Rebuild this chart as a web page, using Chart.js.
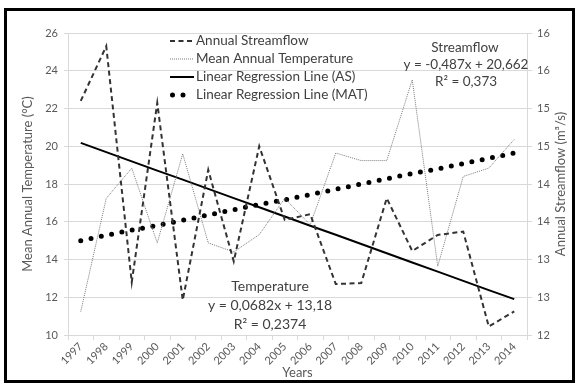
<!DOCTYPE html>
<html>
<head>
<meta charset="utf-8">
<script src="https://cdn.jsdelivr.net/npm/chart.js@4/dist/chart.umd.min.js"></script>
<style>
  html, body { margin: 0; padding: 0; background: #fff; }
  #wrap { width: 578px; height: 385px; }
</style>
</head>
<body>
<div id="wrap"><canvas id="flowChart" width="578" height="385"></canvas></div>
<script>
// Data
const years = ['1997', '1998', '1999', '2000', '2001', '2002', '2003', '2004', '2005',
  '2006', '2007', '2008', '2009', '2010', '2011', '2012', '2013', '2014'];
const streamflow = [22.4, 25.3, 12.8, 22.3, 11.85, 18.75, 13.9, 20.0, 16.1,
  16.4, 12.7, 12.75, 17.25, 14.45, 15.3, 15.48, 10.45, 11.25];
const temperature = [12.31, 13.81, 14.21, 13.22, 14.40, 13.22, 13.10, 13.33, 13.81,
  13.46, 14.41, 14.31, 14.31, 15.38, 12.91, 14.10, 14.21, 14.59];
const trendAS = [20.18, 19.69, 19.2, 18.71, 18.23, 17.74, 17.25, 16.77, 16.28,
  15.79, 15.31, 14.82, 14.33, 13.84, 13.36, 12.87, 12.38, 11.9];
const trendMAT = [13.25, 13.32, 13.39, 13.45, 13.52, 13.59, 13.66, 13.73, 13.79,
  13.86, 13.93, 14.0, 14.07, 14.14, 14.2, 14.27, 14.34, 14.41];
const leftTicks = [10, 12, 14, 16, 18, 20, 22, 24, 26];
const rightTicks = [12, 12.5, 13, 13.5, 14, 14.5, 15, 15.5, 16];

const FONT = 'Lato, "DejaVu Sans", sans-serif';
const GRID = '#d9d9d9';
const TEXT = '#595959';

// Legend, trend-line equations and right axis title drawn by hand
const insideText = {
  id: 'insideText',
  afterDraw(chart) {
    const ctx = chart.ctx;
    ctx.save();
    // legend
    const rows = [41, 59, 77, 95];
    chart.data.datasets.forEach((ds, i) => {
      const y = rows[i];
      ctx.beginPath();
      ctx.strokeStyle = ds.borderColor;
      ctx.lineWidth = ds.borderWidth;
      ctx.lineCap = ds.borderCapStyle || 'butt';
      ctx.setLineDash(ds.borderDash || []);
      ctx.moveTo(i === 3 ? 172.5 : 170, y);
      ctx.lineTo(i === 3 ? 184 : 194, y);
      ctx.stroke();
      ctx.setLineDash([]);
      ctx.fillStyle = '#404040';
      ctx.font = '13.5px ' + FONT;
      ctx.textBaseline = 'middle';
      ctx.textAlign = 'left';
      ctx.fillText(ds.label, 196, y);
    });
    // equations
    ctx.textAlign = 'center';
    ctx.fillStyle = '#404040';
    ctx.font = '13.5px ' + FONT;
    ctx.fillText('Streamflow', 465, 48);
    ctx.fillText('y = -0,487x + 20,662', 466, 65);
    ctx.fillText('R² = 0,373', 466, 82);
    ctx.font = '14px ' + FONT;
    ctx.fillText('Temperature', 270, 286);
    ctx.fillText('y = 0,0682x + 13,18', 270, 305);
    ctx.fillText('R² = 0,2374', 270, 324);
    // right axis title, reading bottom to top
    ctx.save();
    ctx.translate(561, 184);
    ctx.rotate(-Math.PI / 2);
    ctx.fillStyle = TEXT;
    ctx.font = '13px ' + FONT;
    ctx.fillText('Annual Streamflow (m³/s)', 0, 0);
    ctx.restore();
    // outer frame
    ctx.strokeStyle = '#000';
    ctx.lineWidth = 3;
    ctx.strokeRect(5.5, 9.5, 568, 372);
    ctx.restore();
  }
};

const ctx = document.getElementById('flowChart').getContext('2d');
new Chart(ctx, {
  type: 'line',
  data: {
    labels: years,
    datasets: [
      {
        label: 'Annual Streamflow',
        data: streamflow,
        yAxisID: 'y',
        borderColor: '#333333',
        borderWidth: 2,
        borderDash: [5, 3.5],
        pointRadius: 0,
        tension: 0
      },
      {
        label: 'Mean Annual Temperature',
        data: temperature,
        yAxisID: 'y1',
        borderColor: '#7a7a7a',
        borderWidth: 1,
        borderDash: [1, 1],
        pointRadius: 0,
        tension: 0
      },
      {
        label: 'Linear Regression Line (AS)',
        data: trendAS,
        yAxisID: 'y',
        borderColor: '#000000',
        borderWidth: 2,
        pointRadius: 0,
        tension: 0
      },
      {
        label: 'Linear Regression Line (MAT)',
        data: trendMAT,
        yAxisID: 'y1',
        borderColor: '#000000',
        borderWidth: 5,
        borderDash: [0, 10.5],
        borderCapStyle: 'round',
        pointRadius: 0,
        tension: 0
      }
    ]
  },
  options: {
    responsive: false,
    animation: false,
    layout: { padding: { left: 0, right: 0, top: 33, bottom: 0 } },
    plugins: {
      legend: { display: false },
      tooltip: { enabled: false }
    },
    scales: {
      x: {
        offset: true,
        grid: { offset: true, drawOnChartArea: false, tickLength: 5, color: GRID },
        border: { color: GRID },
        ticks: {
          autoSkip: false, minRotation: 45, maxRotation: 45, padding: 0,
          color: TEXT, font: { family: FONT, size: 11 }
        },
        title: {
          display: true, text: 'Years', color: TEXT,
          font: { family: FONT, size: 13 }, padding: { top: 0, bottom: 4 }
        },
        afterFit(scale) { scale.height = 50; }
      },
      y: {
        position: 'left',
        min: 10, max: 26,
        afterBuildTicks(scale) { scale.ticks = leftTicks.map(v => ({ value: v })); },
        grid: { color: GRID, tickLength: 4 },
        border: { color: GRID },
        ticks: { color: TEXT, padding: 6, font: { family: FONT, size: 11 } },
        title: {
          display: true, text: 'Mean Annual Temperature (°C)', color: TEXT,
          font: { family: FONT, size: 13 }, padding: { top: 20, bottom: 0 }
        },
        afterFit(scale) { scale.width = 68; }
      },
      y1: {
        position: 'right',
        min: 12, max: 16,
        afterBuildTicks(scale) { scale.ticks = rightTicks.map(v => ({ value: v })); },
        grid: { drawOnChartArea: false, color: GRID, tickLength: 5 },
        border: { color: GRID },
        ticks: {
          color: TEXT, padding: 5, font: { family: FONT, size: 11 },
          callback: v => Math.round(v)
        },
        afterFit(scale) { scale.width = 51; }
      }
    }
  },
  plugins: [insideText]
});
</script>
</body>
</html>
